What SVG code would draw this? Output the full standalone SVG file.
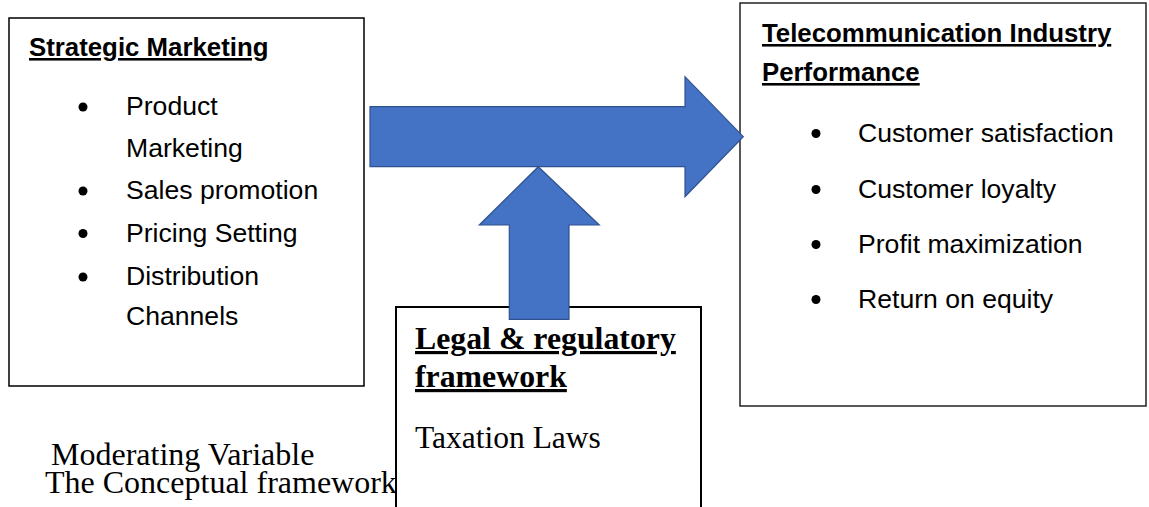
<svg xmlns="http://www.w3.org/2000/svg" width="1149" height="507" viewBox="0 0 1149 507">
<style>
.box{fill:#ffffff;stroke:#000000;stroke-width:1.5}
.sans{font-family:"Liberation Sans",Arial,sans-serif;font-size:26.6px;fill:#000000}
.sansb{font-family:"Liberation Sans",Arial,sans-serif;font-size:25.8px;font-weight:bold;fill:#000000;text-decoration:underline}
.serif{font-family:"Liberation Serif","Times New Roman",serif;fill:#000000}
.arrow{fill:#4472C4;stroke:#2F528F;stroke-width:1.2}
.dot{fill:#000000}
</style>
<rect width="1149" height="507" fill="#ffffff"/>
<g id="moderating-caption">
<text class="serif" x="51" y="465" font-size="32">Moderating Variable</text>
<text class="serif" x="45" y="493" font-size="32">The Conceptual framework</text>
</g>
<g id="strategic-marketing">
<rect class="box" x="9" y="18" width="355" height="368"/>
<text class="sansb" x="29" y="56">Strategic Marketing</text>
<circle class="dot" cx="83" cy="107" r="4.5"/>
<text class="sans" x="126" y="115">Product</text>
<text class="sans" x="126" y="157">Marketing</text>
<circle class="dot" cx="83" cy="191" r="4.5"/>
<text class="sans" x="126" y="199">Sales promotion</text>
<circle class="dot" cx="83" cy="233.5" r="4.5"/>
<text class="sans" x="126" y="241.5">Pricing Setting</text>
<circle class="dot" cx="83" cy="277" r="4.5"/>
<text class="sans" x="126" y="285">Distribution</text>
<text class="sans" x="126" y="325">Channels</text>
</g>
<g id="telecom-performance">
<rect class="box" x="740" y="3" width="406" height="403" style="stroke:#222222"/>
<text class="sansb" x="762" y="42">Telecommunication Industry</text>
<text class="sansb" x="762" y="81">Performance</text>
<circle class="dot" cx="816" cy="133.5" r="4.5"/>
<text class="sans" x="858" y="141.5">Customer satisfaction</text>
<circle class="dot" cx="816" cy="189.5" r="4.5"/>
<text class="sans" x="858" y="197.5">Customer loyalty</text>
<circle class="dot" cx="816" cy="244.5" r="4.5"/>
<text class="sans" x="858" y="252.5">Profit maximization</text>
<circle class="dot" cx="816" cy="299.5" r="4.5"/>
<text class="sans" x="858" y="307.5">Return on equity</text>
</g>
<g id="legal-regulatory">
<rect class="box" x="396" y="307" width="305" height="215" style="stroke-width:2"/>
<text class="serif" x="415" y="349" font-size="31.8" font-weight="bold" text-decoration="underline">Legal &amp; regulatory</text>
<text class="serif" x="415" y="387" font-size="31.8" font-weight="bold" text-decoration="underline">framework</text>
<text class="serif" x="415" y="448" font-size="31.5">Taxation Laws</text>
</g>
<g id="connectors">
<polygon class="arrow" points="370,106.7 685,106.7 685,76.7 743.3,136.7 685,196.7 685,166.7 370,166.7"/>
<polygon class="arrow" points="538.3,166.7 599.3,225 569,225 569,319.3 509.3,319.3 509.3,225 479.3,225"/>
</g>
</svg>
